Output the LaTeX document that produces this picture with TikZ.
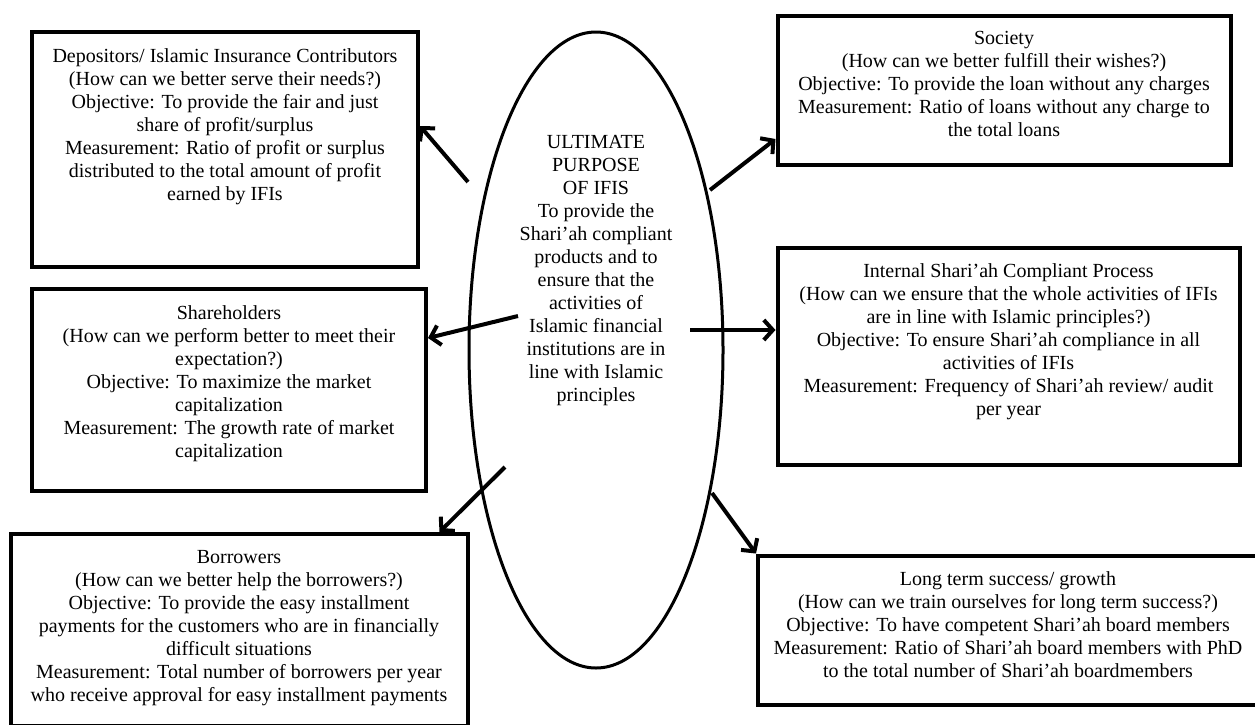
\documentclass[tikz,border=0pt]{standalone}
\usepackage{fontspec}
\setmainfont{Liberation Serif}
\usetikzlibrary{positioning,shapes.geometric,arrows.meta}
\begin{document}
\begin{tikzpicture}[x=1pt, y=-1pt,
	box/.style = {draw, rectangle, line width=4pt, inner sep=0pt},
	txt/.style = {align=center, inner sep=0pt, font=\fontsize{20}{23}\selectfont},
	arr/.style = {line width=4pt, -{Straight Barb[length=9pt,width=20pt]}}]
		\useasboundingbox (0,0) rectangle (1255,724);
		\node[draw, ellipse, line width=3pt, minimum width=254pt, minimum height=636pt] (ufi) at (596,350) {};
		\node[txt] (aim) at (596,271) {ULTIMATE\\PURPOSE\\OF IFIS\\To provide the\\Shari’ah compliant\\products and to\\ensure that the\\activities of\\Islamic financial\\institutions are in\\line with Islamic\\principles};
		\node[box, minimum width=386pt, minimum height=235pt] (dep) at (225,149.5) {};
		\node[box, minimum width=394pt, minimum height=202pt] (sha) at (229,390) {};
		\node[box, minimum width=457pt, minimum height=192pt] (bor) at (239,630) {};
		\node[box, minimum width=453pt, minimum height=149pt] (soc) at (1004,90) {};
		\node[box, minimum width=462pt, minimum height=217pt] (isp) at (1008.5,356) {};
		\node[box, minimum width=500pt, minimum height=149pt] (lts) at (1008,630) {};
		\node[txt, below=18pt of dep.north] (depT) {Depositors/ Islamic Insurance Contributors\\(How can we better serve their needs?)\\Objective: To provide the fair and just\\share of profit/surplus\\Measurement: Ratio of profit or surplus\\distributed to the total amount of profit\\earned by IFIs};
		\node[txt, below=18pt of sha.north] (shaT) {Shareholders\\(How can we perform better to meet their\\expectation?)\\Objective: To maximize the market\\capitalization\\Measurement: The growth rate of market\\capitalization};
		\node[txt, below=18pt of bor.north] (borT) {Borrowers\\(How can we better help the borrowers?)\\Objective: To provide the easy installment\\payments for the customers who are in financially\\difficult situations\\Measurement: Total number of borrowers per year\\who receive approval for easy installment payments};
		\node[txt, below=18pt of soc.north] (socT) {Society\\(How can we better fulfill their wishes?)\\Objective: To provide the loan without any charges\\Measurement: Ratio of loans without any charge to\\the total loans};
		\node[txt, below=18pt of isp.north] (ispT) {Internal Shari’ah Compliant Process\\(How can we ensure that the whole activities of IFIs\\are in line with Islamic principles?)\\Objective: To ensure Shari’ah compliance in all\\activities of IFIs\\Measurement: Frequency of Shari’ah review/ audit\\per year};
		\node[txt, below=18pt of lts.north] (ltsT) {Long term success/ growth\\(How can we train ourselves for long term success?)\\Objective: To have competent Shari’ah board members\\Measurement: Ratio of Shari’ah board members with PhD\\to the total number of Shari’ah boardmembers};
		\coordinate (p1) at (468,182);
		\coordinate (p2) at (518,316);
		\coordinate (p3) at (505,467);
		\coordinate (p4) at (710,190);
		\coordinate (p5) at (690,330);
		\coordinate (p6) at (712,493);
		\draw[arr] (p1) -- ([yshift=23.5pt]dep.east);
		\draw[arr] (p2) -- ([yshift=52pt]sha.east);
		\draw[arr] (p3) -- ([xshift=-30pt]bor.north east);
		\draw[arr] (p4) -- ([yshift=-49pt]soc.west);
		\draw[arr] (p5) -- ([yshift=26pt]isp.west);
		\draw[arr] (p6) -- (lts.north west);
	\end{tikzpicture}
\end{document}
